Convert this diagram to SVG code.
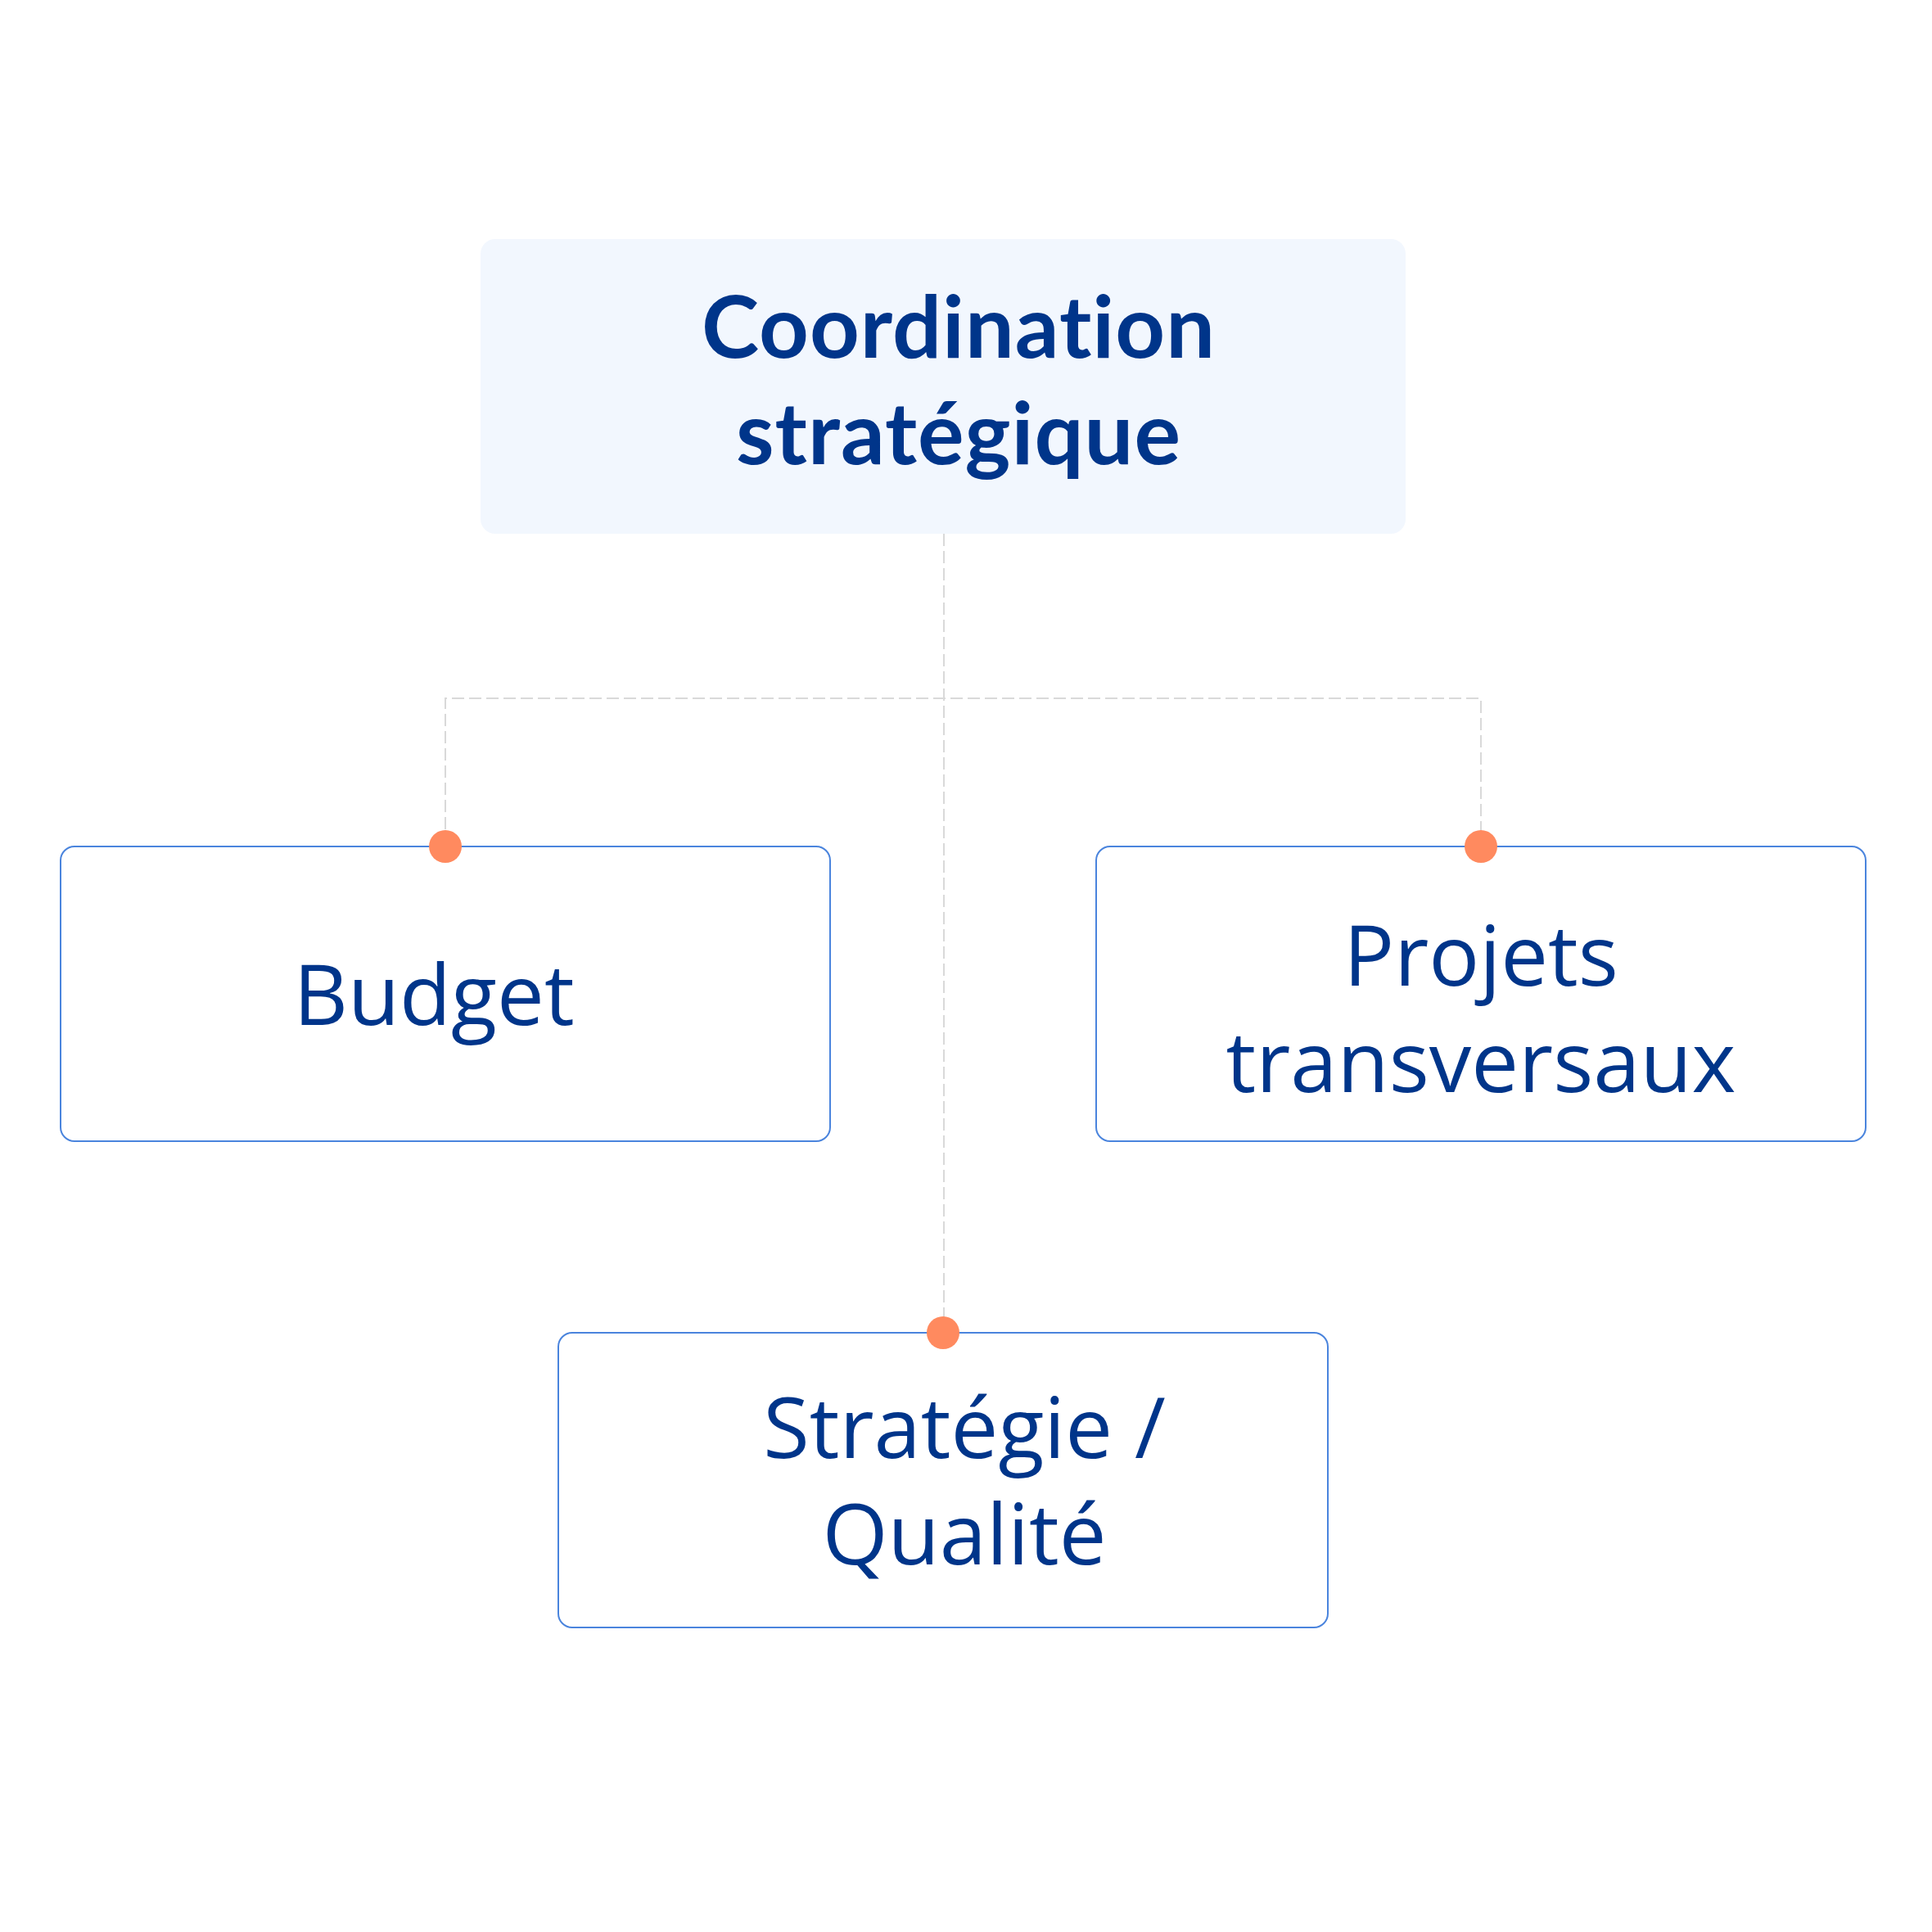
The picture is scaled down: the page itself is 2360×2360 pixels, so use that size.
<svg xmlns="http://www.w3.org/2000/svg" width="2360" height="2360" viewBox="0 0 2360 2360">
<style>
.bg{fill:#ffffff}
.top{fill:#F2F7FE}
.box{fill:#ffffff;stroke:#4A84DD;stroke-width:2}
.dot{fill:#FF8A5F}
.conn{fill:none;stroke:#D9D9D9;stroke-width:2;stroke-dasharray:15 6}
.tb{font-family:Lato,"Open Sans","Liberation Sans",sans-serif;font-weight:700;font-size:106px;letter-spacing:1px;font-variant-ligatures:none;font-feature-settings:"liga" 0;fill:#00358A;text-anchor:middle}
.tr{font-family:"Open Sans","Noto Sans","Liberation Sans",sans-serif;font-weight:400;font-size:103px;fill:#00358A;text-anchor:middle}
</style>
<rect class="bg" x="0" y="0" width="2360" height="2360"/>
<g id="connectors">
<path class="conn" d="M1153 652 V1628"/>
<path class="conn" d="M544 1034 V853 H1809 V1034"/>
</g>
<g id="node-coordination">
<rect class="top" x="587" y="292" width="1130" height="360" rx="18"/>
<text class="tb" x="1171" y="437">Coordination</text>
<text class="tb" x="1171" y="567">stratégique</text>
</g>
<g id="node-budget">
<rect class="box" x="74" y="1034" width="940" height="360" rx="17"/>
<text class="tr" x="530" y="1252">Budget</text>
<circle class="dot" cx="544" cy="1034" r="20"/>
</g>
<g id="node-projets">
<rect class="box" x="1339" y="1034" width="940" height="360" rx="17"/>
<text class="tr" x="1809" y="1204">Projets</text>
<text class="tr" x="1809" y="1334">transversaux</text>
<circle class="dot" cx="1809" cy="1034" r="20"/>
</g>
<g id="node-strategie">
<rect class="box" x="682" y="1628" width="940" height="360" rx="17"/>
<text class="tr" x="1178" y="1781">Stratégie /</text>
<text class="tr" x="1178" y="1911">Qualité</text>
<circle class="dot" cx="1152" cy="1628" r="20"/>
</g>
</svg>
